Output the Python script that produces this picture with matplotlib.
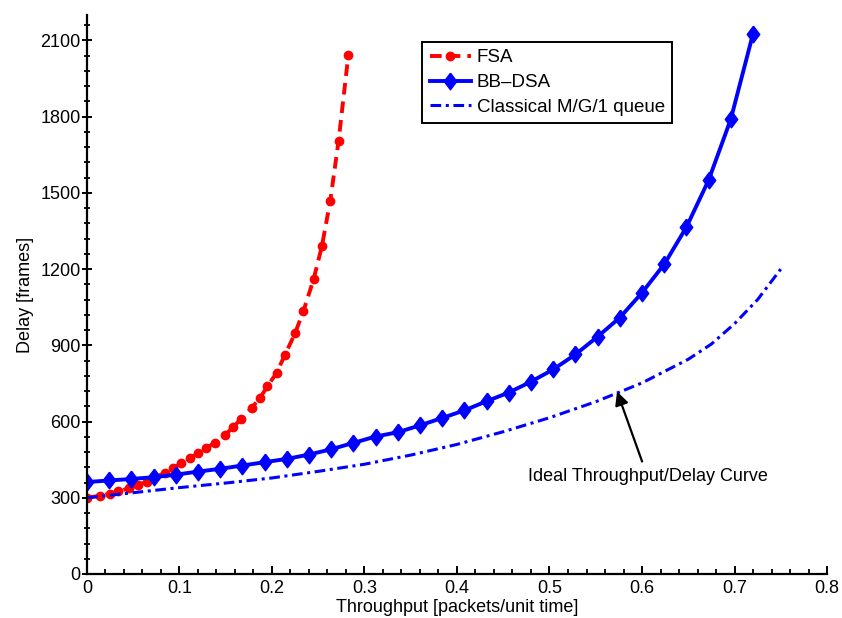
import numpy as np
import matplotlib
matplotlib.use("Agg")
import matplotlib.pyplot as plt
from matplotlib.ticker import MultipleLocator

plt.rcParams['font.family'] = ['Liberation Sans', 'DejaVu Sans']

# FSA (red dashed, dots)
fsa_x = [0.0, 0.014, 0.025, 0.034, 0.045, 0.055, 0.065, 0.074, 0.084, 0.093,
         0.102, 0.111, 0.120, 0.129, 0.138, 0.149, 0.158, 0.167, 0.178, 0.187,
         0.195, 0.205, 0.214, 0.225, 0.234, 0.245, 0.254, 0.263, 0.272, 0.2825]
fsa_y = [300, 308, 316, 325, 337, 350, 364, 380, 398, 416,
         436, 455, 475, 495, 517, 546, 578, 612, 654, 693,
         738, 792, 862, 948, 1035, 1160, 1291, 1469, 1705, 2041]

# BB-DSA (blue solid, diamonds)
bb_x = [0.0, 0.024, 0.048, 0.072, 0.096, 0.12, 0.144, 0.168, 0.192, 0.216,
        0.24, 0.264, 0.288, 0.312, 0.336, 0.36, 0.384, 0.408, 0.432, 0.456,
        0.48, 0.504, 0.528, 0.552, 0.576, 0.6, 0.624, 0.648, 0.672, 0.696, 0.72]
bb_y = [362, 368, 374, 381, 391, 403, 414, 427, 440, 453,
        470, 491, 516, 541, 558, 585, 614, 644, 680, 714,
        757, 805, 864, 934, 1009, 1107, 1219, 1365, 1550, 1790, 2126]

# Classical M/G/1 queue (blue dash-dot)
mg1_x = [0.0, 0.05, 0.1, 0.15, 0.2, 0.25, 0.3, 0.35, 0.4, 0.45,
         0.5, 0.55, 0.6, 0.65, 0.675, 0.7, 0.725, 0.75]
mg1_y = [300, 320, 340, 358, 378, 404, 432, 468, 510, 560,
         615, 678, 752, 845, 905, 985, 1080, 1200]

diamond = [(0, 1), (0.75, 0), (0, -1), (-0.75, 0), (0, 1)]

fig = plt.figure(figsize=(8.42, 6.18), dpi=100)
ax = fig.add_axes([0.1033, 0.0712, 0.8789, 0.9045])

ax.plot(fsa_x, fsa_y, color='red', lw=2.8, dashes=(3, 1.8), marker='o',
        markersize=6, label='FSA')
ax.plot(bb_x, bb_y, color='blue', lw=2.8, marker=diamond, markersize=12,
        label='BB\u2013DSA')
ax.plot(mg1_x, mg1_y, color='blue', lw=2.2, dashes=(3.5, 1.5, 1, 1.5),
        label='Classical M/G/1 queue')

ax.set_xlim(0, 0.8)
ax.set_ylim(0, 2200)
ax.xaxis.set_major_locator(MultipleLocator(0.1))
ax.xaxis.set_minor_locator(MultipleLocator(0.02))
ax.yaxis.set_major_locator(MultipleLocator(300))
ax.yaxis.set_minor_locator(MultipleLocator(60))
ax.set_xticks(np.arange(0, 0.81, 0.1))
ax.set_xticklabels(['0', '0.1', '0.2', '0.3', '0.4', '0.5', '0.6', '0.7', '0.8'])

ax.spines['top'].set_visible(False)
ax.spines['right'].set_visible(False)
for s in ('left', 'bottom'):
    ax.spines[s].set_linewidth(1.6)

ax.tick_params(axis='x', which='major', direction='in', length=6, width=1.4,
               labelsize=13, pad=4)
ax.tick_params(axis='x', which='minor', direction='in', length=3.5, width=1.3)
ax.tick_params(axis='y', which='major', direction='inout', length=7, width=1.4,
               labelsize=13, pad=1)
ax.tick_params(axis='y', which='minor', direction='inout', length=4, width=1.3)

ax.set_xlabel('Throughput [packets/unit time]', fontsize=13, labelpad=2)
ax.set_ylabel('Delay [frames]', fontsize=13, labelpad=5)

leg = ax.legend(loc='upper left', bbox_to_anchor=(0.453, 0.952), fontsize=13.5,
                handlelength=2.2, handletextpad=0.3, labelspacing=0.4,
                borderaxespad=0, borderpad=0.4,
                fancybox=False, framealpha=1, edgecolor='black')
leg.get_frame().set_linewidth(1.4)

ax.annotate('Ideal Throughput/Delay Curve', xy=(0.573, 718), xytext=(0.606, 383),
            ha='center', va='center', fontsize=13,
            arrowprops=dict(arrowstyle='-|>', color='black', lw=1.6,
                            mutation_scale=20, shrinkA=3, shrinkB=0))

fig.savefig('out.png', dpi=100)
